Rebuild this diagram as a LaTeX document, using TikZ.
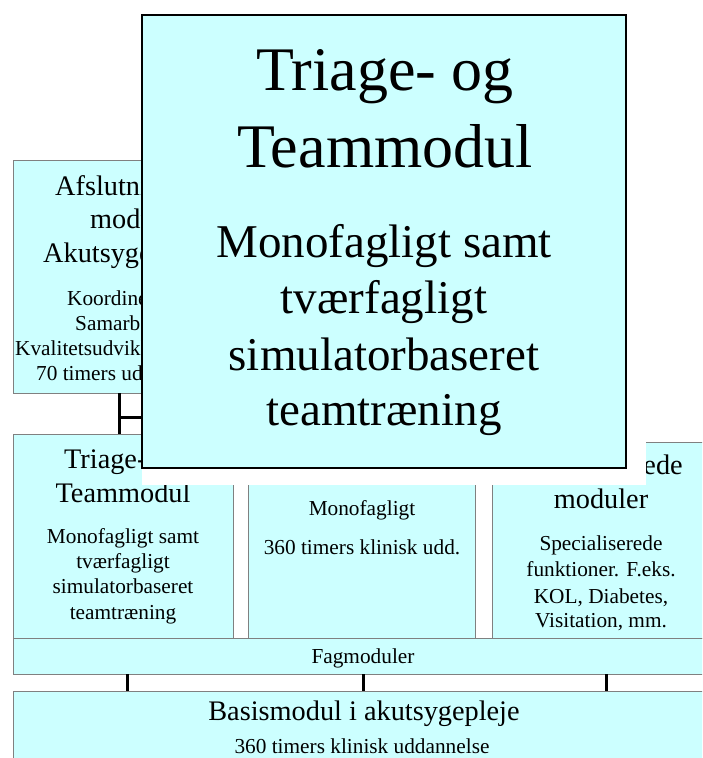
\documentclass[tikz,border=0pt]{standalone}
\usepackage{fontspec}
\setmainfont{Liberation Serif}
\definecolor{cyanfill}{RGB}{204,255,255}
\definecolor{boxgray}{RGB}{128,128,128}
\begin{document}
\begin{tikzpicture}[x=1pt,y=-1pt,
  box/.style={draw=boxgray, fill=cyanfill, line width=0.9pt, inner sep=0pt, outer sep=0pt, anchor=north west},
  popbox/.style={draw=black, fill=cyanfill, line width=1.5pt, inner sep=0pt, outer sep=0pt, anchor=north west},
  wbox/.style={fill=white, draw=none, inner sep=0pt, outer sep=0pt, anchor=north west},
  ttl/.style={inner sep=0pt, anchor=base, font=\fontsize{28.3}{34}\selectfont},
  ttlw/.style={inner sep=0pt, anchor=base west, font=\fontsize{28.3}{34}\selectfont},
  sml/.style={inner sep=0pt, anchor=base, font=\fontsize{21.3}{25}\selectfont},
  smlw/.style={inner sep=0pt, anchor=base west, font=\fontsize{21.3}{25}\selectfont},
  bigttl/.style={inner sep=0pt, anchor=base, font=\fontsize{62}{74}\selectfont},
  bigsml/.style={inner sep=0pt, anchor=base, font=\fontsize{47}{56}\selectfont},
  conn/.style={line width=3pt, draw=black}]
\useasboundingbox (0,0) rectangle (702,758);
\clip (0,0) rectangle (702,758);
\fill[white] (0,0) rectangle (702,758);

% Afslutningsmodul
\node[box, minimum width=224pt, minimum height=233pt] (afs) at (13,160) {};
\node[ttlw] (afs1) at (55,195) {Afslutnings-};
\node[ttlw] (afs2) at (90,228) {modul i};
\node[ttlw] (afs3) at (43,262) {Akutsygepleje};
\node[smlw] (afs4) at (67,305) {Koordinering};
\node[smlw] (afs5) at (75,330) {Samarbejde};
\node[smlw] (afs6) at (15,355) {Kvalitetsudvikling};
\node[smlw] (afs7) at (36,380) {70 timers uddannelse};

% lower row
\node[box, minimum width=220pt, minimum height=204pt] (tri) at (13,434) {};
\node[box, minimum width=227pt, minimum height=204pt] (mid) at (248,434) {};
\node[box, minimum width=220pt, minimum height=196pt] (spe) at (492,442) {};
\node[box, minimum width=700pt, minimum height=36pt] (fag) at (13,638) {};
\node[box, minimum width=700pt, minimum height=80pt] (bas) at (13,691) {};

% connector Afslutningsmodul -> Triage
\coordinate (cx) at (119,0);
\coordinate (hend) at (330,417);
\draw[conn] (afs.south -| cx) -- (tri.north -| cx);
\draw[conn] (cx |- hend) -- (hend);

% ticks Fagmoduler -> Basismodul
\coordinate (t1) at (127,0);
\coordinate (t2) at (363,0);
\coordinate (t3) at (606,0);
\draw[conn] (fag.south -| t1) -- (bas.north -| t1);
\draw[conn] (fag.south -| t2) -- (bas.north -| t2);
\draw[conn] (fag.south -| t3) -- (bas.north -| t3);

% texts lower row
\node[ttl] (tri1) at (123,468) {Triage- og};
\node[ttl] (tri2) at (123,502) {Teammodul};
\node[sml] (tri3) at (123,543) {Monofagligt samt};
\node[sml] (tri4) at (123,568) {tværfagligt};
\node[sml] (tri5) at (123,593) {simulatorbaseret};
\node[sml] (tri6) at (123,619) {teamtræning};

\node[sml] (mid1) at (362,515) {Monofagligt};
\node[sml] (mid2) at (362,554) {360 timers klinisk udd.};

\node[ttl] (spe1) at (601,474) {Specialiserede};
\node[ttl] (spe2) at (601,508) {moduler};
\node[sml] (spe3) at (601,550) {Specialiserede};
\node[sml] (spe4) at (601,576) {funktioner. F.eks.};
\node[sml] (spe5) at (601,603) {KOL, Diabetes,};
\node[sml] (spe6) at (601,627) {Visitation, mm.};

\node[sml] (fag1) at (363,663) {Fagmoduler};
\node[ttl] (bas1) at (364,720) {Basismodul i akutsygepleje};
\node[sml] (bas2) at (362,753) {360 timers klinisk uddannelse};

% popup
\node[wbox, minimum width=504pt, minimum height=470pt] (wb) at (142,15) {};
\node[popbox, minimum width=484pt, minimum height=453pt] (pop) at (142,15) {};
\node[bigttl] (pop1) at (385,90) {Triage- og};
\node[bigttl] (pop2) at (385,167) {Teammodul};
\node[bigsml] (pop3) at (384,257) {Monofagligt samt};
\node[bigsml] (pop4) at (384,313) {tværfagligt};
\node[bigsml] (pop5) at (384,370) {simulatorbaseret};
\node[bigsml] (pop6) at (384,425) {teamtræning};
\end{tikzpicture}
\end{document}
